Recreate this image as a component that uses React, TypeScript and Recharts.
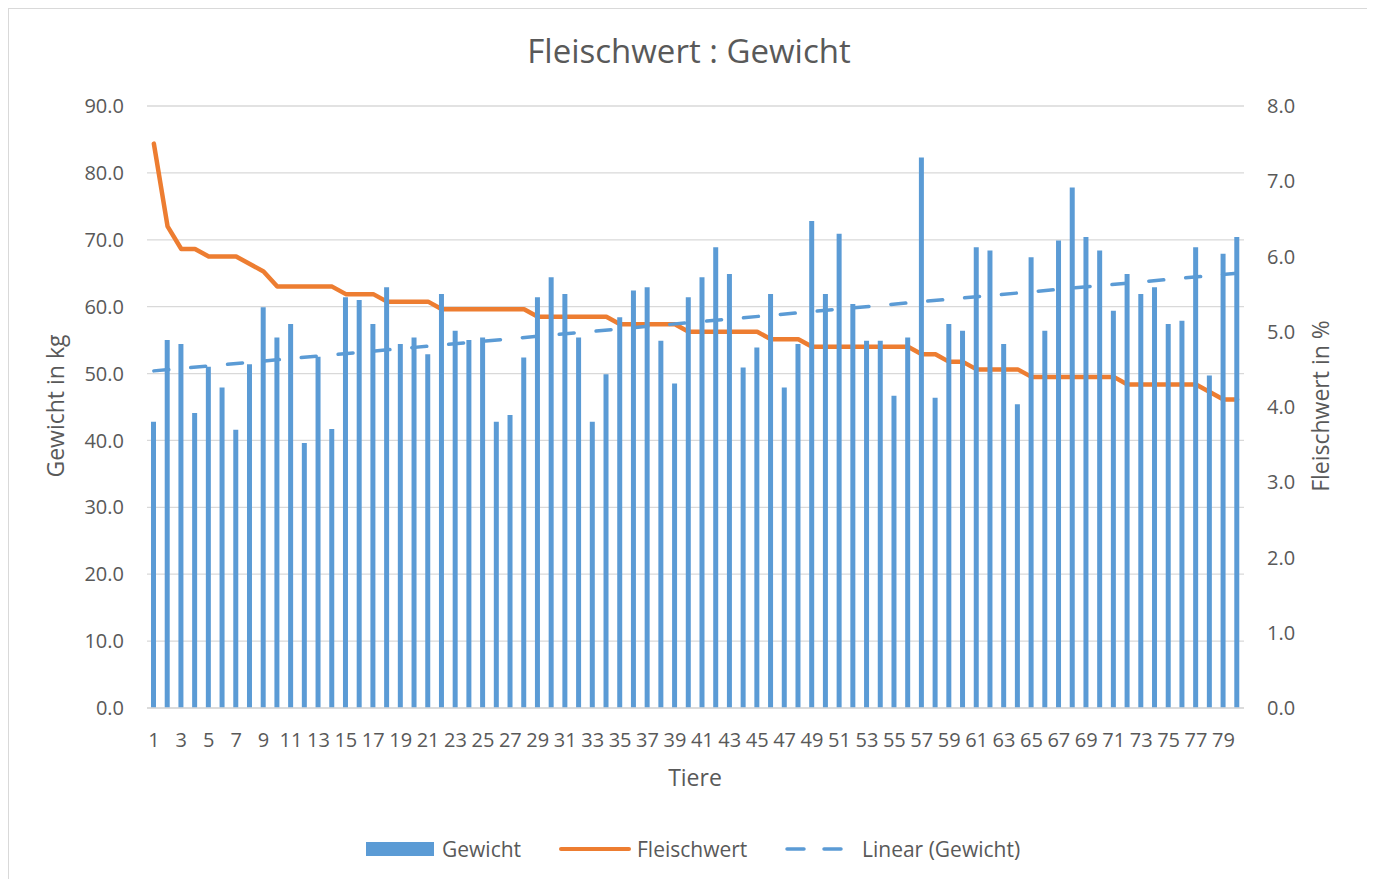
import React from 'react';
import {
  ComposedChart,
  Bar,
  Line,
  XAxis,
  YAxis,
  CartesianGrid,
} from 'recharts';

const TIERE = Array.from({ length: 80 }, (_, i) => i + 1);

const GEWICHT = [
  42.8, 55.0, 54.4, 44.1, 51.0, 47.9, 41.6, 51.4, 59.9, 55.4,
  57.4, 39.6, 52.5, 41.7, 61.4, 61.0, 57.4, 62.9, 54.4, 55.4,
  52.9, 61.9, 56.4, 55.0, 55.4, 42.8, 43.8, 52.4, 61.4, 64.4,
  61.9, 55.4, 42.8, 49.9, 58.4, 62.4, 62.9, 54.9, 48.5, 61.4,
  64.4, 68.9, 64.9, 50.9, 53.9, 61.9, 47.9, 54.4, 72.8, 61.9,
  70.9, 60.4, 54.9, 54.9, 46.7, 55.4, 82.3, 46.4, 57.4, 56.4,
  68.9, 68.4, 54.4, 45.4, 67.4, 56.4, 69.9, 77.8, 70.4, 68.4,
  59.4, 64.9, 61.9, 62.9, 57.4, 57.9, 68.9, 49.7, 67.9, 70.4,
];

const FLEISCHWERT = [
  7.5, 6.4, 6.1, 6.1, 6.0, 6.0, 6.0, 5.9, 5.8, 5.6,
  5.6, 5.6, 5.6, 5.6, 5.5, 5.5, 5.5, 5.4, 5.4, 5.4,
  5.4, 5.3, 5.3, 5.3, 5.3, 5.3, 5.3, 5.3, 5.2, 5.2,
  5.2, 5.2, 5.2, 5.2, 5.1, 5.1, 5.1, 5.1, 5.1, 5.0,
  5.0, 5.0, 5.0, 5.0, 5.0, 4.9, 4.9, 4.9, 4.8, 4.8,
  4.8, 4.8, 4.8, 4.8, 4.8, 4.8, 4.7, 4.7, 4.6, 4.6,
  4.5, 4.5, 4.5, 4.5, 4.4, 4.4, 4.4, 4.4, 4.4, 4.4,
  4.4, 4.3, 4.3, 4.3, 4.3, 4.3, 4.3, 4.2, 4.1, 4.1,
];

// Endpunkte der linearen Trendlinie
const TREND_START = 50.4;
const TREND_END = 65.0;

const LEFT_TICKS = [0, 10, 20, 30, 40, 50, 60, 70, 80, 90];
const RIGHT_TICKS = [0, 1, 2, 3, 4, 5, 6, 7, 8];

const data = TIERE.map((t, i) => ({
  tier: t,
  gewicht: GEWICHT[i],
  fleisch: FLEISCHWERT[i],
  trend: i === 0 ? TREND_START : i === TIERE.length - 1 ? TREND_END : null,
}));

const BLUE = '#5B9BD5';
const ORANGE = '#ED7D31';
const TEXT = '#595959';
const GRID = '#d9d9d9';
const FONT = '"Open Sans", sans-serif';

const tickStyle = { fill: TEXT, fontSize: 20, fontFamily: FONT };

export default function App() {
  return (
    <div
      style={{
        position: 'relative',
        width: 1362,
        height: 880,
        border: `1px solid ${GRID}`,
        boxSizing: 'border-box',
        fontFamily: FONT,
        background: '#fff',
      }}
    >
      <ComposedChart
        width={1360}
        height={878}
        data={data}
        margin={{ top: 97, right: 25, bottom: 139, left: 38 }}
      >
        <CartesianGrid yAxisId="left" vertical={false} stroke={GRID} strokeWidth={1.3} />
        <XAxis
          dataKey="tier"
          interval={1}
          height={40}
          tick={tickStyle}
          tickLine={false}
          axisLine={{ stroke: GRID, strokeWidth: 1.3 }}
          tickMargin={19}
        />
        <YAxis
          yAxisId="left"
          domain={[0, 90]}
          ticks={LEFT_TICKS}
          width={100}
          tick={tickStyle}
          tickLine={false}
          axisLine={false}
          tickMargin={17}
          tickFormatter={(v: number) => v.toFixed(1)}
        />
        <YAxis
          yAxisId="right"
          orientation="right"
          domain={[0, 8]}
          ticks={RIGHT_TICKS}
          width={100}
          tick={tickStyle}
          tickLine={false}
          axisLine={false}
          tickMargin={17}
          tickFormatter={(v: number) => v.toFixed(1)}
        />
        {/* Fleischwert liegt im Original hinter den Säulen */}
        <Line
          yAxisId="right"
          dataKey="fleisch"
          type="linear"
          stroke={ORANGE}
          strokeWidth={4.5}
          strokeLinejoin="round"
          strokeLinecap="round"
          dot={false}
          activeDot={false}
          isAnimationActive={false}
          zIndex={200}
        />
        <Bar
          yAxisId="left"
          dataKey="gewicht"
          fill={BLUE}
          barSize={5}
          isAnimationActive={false}
          zIndex={300}
        />
        <Line
          yAxisId="left"
          dataKey="trend"
          type="linear"
          connectNulls
          stroke={BLUE}
          strokeWidth={3.5}
          strokeDasharray="15 22"
          strokeLinecap="round"
          dot={false}
          activeDot={false}
          isAnimationActive={false}
          zIndex={400}
        />
      </ComposedChart>

      <svg
        width={1360}
        height={878}
        style={{ position: 'absolute', left: 0, top: 0, pointerEvents: 'none' }}
      >
        <text x={680} y={54} textAnchor="middle" fontSize={33} fill={TEXT} fontFamily={FONT}>
          Fleischwert : Gewicht
        </text>
        <text x={686} y={777} textAnchor="middle" fontSize={23} fill={TEXT} fontFamily={FONT}>
          Tiere
        </text>
        <text
          x={54.5}
          y={397}
          textAnchor="middle"
          fontSize={23}
          fill={TEXT}
          fontFamily={FONT}
          transform="rotate(-90 54.5 397)"
        >
          Gewicht in kg
        </text>
        <text
          x={1320}
          y={397}
          textAnchor="middle"
          fontSize={23}
          fill={TEXT}
          fontFamily={FONT}
          transform="rotate(-90 1320 397)"
        >
          Fleischwert in %
        </text>

        {/* Legende */}
        <rect x={357} y={833} width={68} height={14} fill={BLUE} />
        <text x={433} y={847.5} fontSize={21} fill={TEXT} fontFamily={FONT}>
          Gewicht
        </text>
        <line x1={552} y1={840} x2={620} y2={840} stroke={ORANGE} strokeWidth={4} strokeLinecap="round" />
        <text x={628} y={847.5} fontSize={21} fill={TEXT} fontFamily={FONT}>
          Fleischwert
        </text>
        <line x1={778} y1={840} x2={795} y2={840} stroke={BLUE} strokeWidth={3.5} strokeLinecap="round" />
        <line x1={815} y1={840} x2={832} y2={840} stroke={BLUE} strokeWidth={3.5} strokeLinecap="round" />
        <text x={853} y={847.5} fontSize={21} fill={TEXT} fontFamily={FONT}>
          Linear (Gewicht)
        </text>
      </svg>
    </div>
  );
}
